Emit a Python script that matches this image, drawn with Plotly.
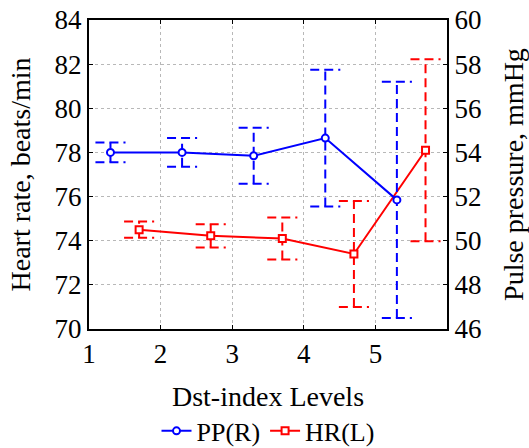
import plotly.graph_objects as go

# ---- data ----
levels = [1, 2, 3, 4, 5]
pp_mean = [54.0, 54.0, 53.85, 54.65, 51.85]   # Pulse pressure, mmHg (right axis)
pp_err = [0.45, 0.65, 1.27, 3.1, 5.35]
hr_mean = [74.5, 74.22, 74.1, 73.4, 78.1]     # Heart rate, beats/min (left axis)
hr_err = [0.37, 0.53, 0.95, 2.4, 4.12]

PP_OFFSET = 0.3
HR_OFFSET = 0.7
CAP_HALF = 0.21
BLUE = "#0000ff"
RED = "#ff0000"
FONT = "Liberation Serif, Times New Roman, serif"

pp_x = [v + PP_OFFSET for v in levels]
hr_x = [v + HR_OFFSET for v in levels]


def errbar_trace(xs, ys, es, color, yaxis):
    ex, ey = [], []
    for x, y, e in zip(xs, ys, es):
        ex += [x, x, None]
        ey += [y - e, y + e, None]
        for yy in (y - e, y + e):
            ex += [x - CAP_HALF, x + CAP_HALF, None]
            ey += [yy, yy, None]
    return go.Scatter(x=ex, y=ey, mode="lines", yaxis=yaxis, showlegend=False,
                      hoverinfo="skip",
                      line=dict(color=color, width=2, dash="9px,5px"))


fig = go.Figure()
fig.add_trace(errbar_trace(pp_x, pp_mean, pp_err, BLUE, "y2"))
fig.add_trace(errbar_trace(hr_x, hr_mean, hr_err, RED, "y"))

fig.add_trace(go.Scatter(
    x=pp_x, y=pp_mean, yaxis="y2", name="PP(R)", mode="lines+markers",
    line=dict(color=BLUE, width=2),
    marker=dict(symbol="circle", size=7, color="white", line=dict(color=BLUE, width=2))))
fig.add_trace(go.Scatter(
    x=hr_x, y=hr_mean, yaxis="y", name="HR(L)", mode="lines+markers",
    line=dict(color=RED, width=2),
    marker=dict(symbol="square", size=7, color="white", line=dict(color=RED, width=2))))

axis_common = dict(showline=True, linecolor="black", linewidth=2, ticks="inside",
                   ticklen=4, tickwidth=1, tickcolor="black", zeroline=False,
                   automargin=False,
                   tickfont=dict(family=FONT, size=27, color="black"))

fig.update_layout(
    width=529, height=448,
    margin=dict(l=89, r=82, t=20, b=119, autoexpand=False),
    paper_bgcolor="white", plot_bgcolor="white",
    font=dict(family=FONT, size=27, color="black"),
    xaxis=dict(range=[1, 6], tickvals=levels, mirror="ticks",
               showgrid=True, gridcolor="#b8b8b8", griddash="dot", gridwidth=1,
               title=dict(text="Dst-index Levels", standoff=18,
                          font=dict(family=FONT, size=28)),
               **axis_common),
    yaxis=dict(range=[70, 84], dtick=2, side="left",
               showgrid=True, gridcolor="#b8b8b8", griddash="dot", gridwidth=1,
               title=dict(text="Heart rate, beats/min", standoff=16,
                          font=dict(family=FONT, size=28)),
               **axis_common),
    yaxis2=dict(range=[46, 60], dtick=2, side="right", overlaying="y",
                showgrid=False,
                title=dict(text="Pulse pressure, mmHg", standoff=22,
                           font=dict(family=FONT, size=28)),
                **axis_common),
    legend=dict(orientation="h", x=0.5, xanchor="center", y=-0.33, yanchor="middle",
                font=dict(family=FONT, size=26), bgcolor="rgba(0,0,0,0)"),
    showlegend=True,
)

fig.write_html("out.html")
